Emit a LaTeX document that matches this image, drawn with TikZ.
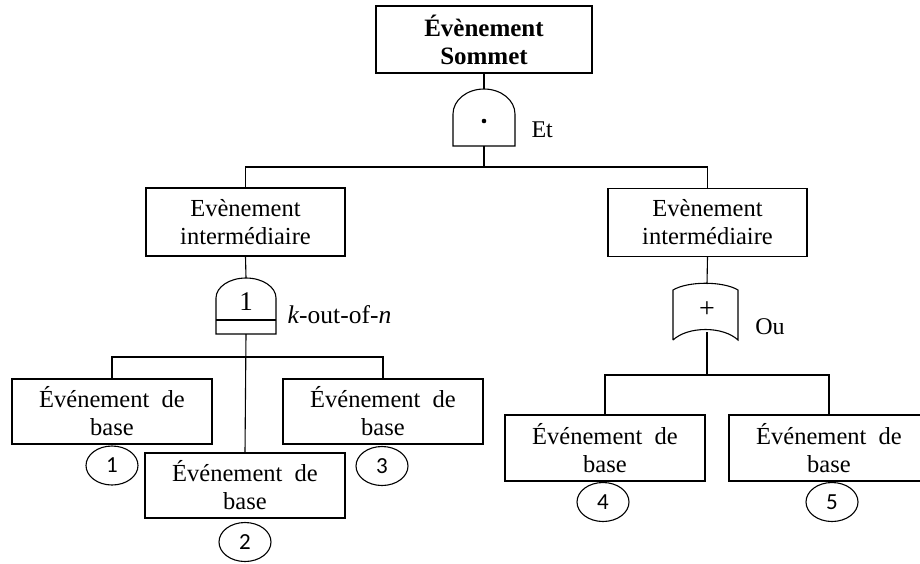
\documentclass[tikz,border=0pt]{standalone}
\usepackage{fontspec}
\setmainfont{Liberation Serif}
\newfontfamily\numfont{Carlito}
\usetikzlibrary{shapes.geometric}
\begin{document}
\begin{tikzpicture}[x=1pt,y=-1pt,line width=1.1pt,
  evbox/.style={draw,rectangle,inner sep=0pt,align=center,
    font=\fontsize{24.5}{28}\selectfont},
  numell/.style={draw,ellipse,inner sep=0pt,minimum width=52pt,minimum height=39pt,
    font=\numfont\fontsize{23}{24}\selectfont},
  lbl/.style={inner sep=0pt,font=\fontsize{24}{26}\selectfont},
  gate/.style={draw,line width=1.1pt}]
\clip (0,0) rectangle (920,563);
\fill[white] (0,0) rectangle (920,563);

% boxes
\node[evbox,minimum width=216pt,minimum height=67pt,font=\bfseries\fontsize{25}{28}\selectfont]
  (top) at (484,39.5) {Évènement\\Sommet};
\node[evbox,minimum width=199pt,minimum height=68pt] (intL) at (245.5,222) {Evènement\\intermédiaire};
\node[evbox,minimum width=199pt,minimum height=68pt] (intR) at (707.5,222.5) {Evènement\\intermédiaire};
\node[evbox,minimum width=200pt,minimum height=65pt] (b1) at (112,411.5) {Événement\ \ de\\base};
\node[evbox,minimum width=200pt,minimum height=65pt] (b2) at (245,485.5) {Événement\ \ de\\base};
\node[evbox,minimum width=200pt,minimum height=65pt] (b3) at (383,411.5) {Événement\ \ de\\base};
\node[evbox,minimum width=200pt,minimum height=66pt] (b4) at (605,448) {Événement\ \ de\\base};
\node[evbox,minimum width=200pt,minimum height=66pt] (b5) at (829,448) {Événement\ \ de\\base};

% numbered ellipses
\node[numell] (c1) at (112,465.5) {1};
\node[numell] (c2) at (245,542) {2};
\node[numell] (c3) at (382,466) {3};
\node[numell] (c4) at (603,502) {4};
\node[numell] (c5) at (832,502) {5};

% AND gate
\coordinate (gAt) at (484,89);
\coordinate (gAb) at (484,146);
\draw[gate] (453,146) -- (453,114) arc[start angle=180,end angle=360,x radius=31,y radius=25] -- (515,146) -- cycle;
\fill (484,121) circle (2.3);
\node[lbl,anchor=west] (et) at (531,130) {Et};

% k-out-of-n gate
\coordinate (gKt) at (246,278);
\coordinate (gKb) at (246,334);
\draw[gate] (216,334) -- (216,298) arc[start angle=180,end angle=360,x radius=30,y radius=20] -- (276,334) -- cycle;
\draw[gate] (216,320) -- (276,320);
\node[lbl,font=\fontsize{27}{28}\selectfont] (kone) at (246,302) {1};
\node[lbl,anchor=west,font=\fontsize{25.5}{26}\selectfont] (kon) at (287,315) {\textit{k}-out-of-\textit{n}};

% OR gate
\coordinate (gOt) at (707,284);
\coordinate (gOb) at (707,332);
\draw[gate] (673,340) -- (673,290) .. controls (688,281) and (723,281) .. (738,290)
  -- (738,340) .. controls (723,326) and (688,326) .. (673,340);
\node[lbl,font=\fontsize{28}{28}\selectfont] (plus) at (707,310) {+};
\node[lbl] (ou) at (770,327) {Ou};

% bus coordinates
\coordinate (busA) at (484,167);
\coordinate (busK) at (246,357);
\coordinate (busO) at (707,375);

% connectors
\draw (top.south) -- (gAt);
\draw (gAb) -- (busA);
\draw (intL.north) |- (busA) -| (intR.north);
\draw (intL.south) -- (gKt);
\draw (gKb) -- (b2.north);
\draw (b1.north) |- (busK) -| (b3.north);
\draw (intR.south) -- (gOt);
\draw (gOb) -- (busO);
\draw (b4.north) |- (busO) -| (b5.north);
\end{tikzpicture}
\end{document}
